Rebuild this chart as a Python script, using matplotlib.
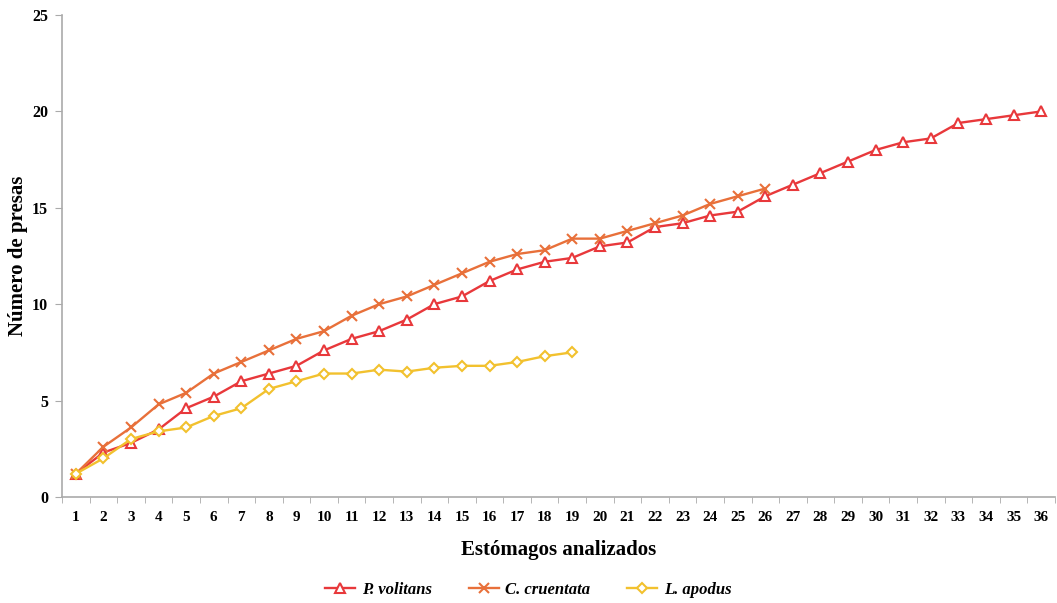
import matplotlib.pyplot as plt
from matplotlib.ticker import FixedLocator

plt.rcParams['font.family'] = ['Liberation Serif', 'DejaVu Serif']

stomachs = list(range(1, 37))
p_volitans = [1.2, 2.3, 2.8, 3.5, 4.6, 5.2, 6.0, 6.4, 6.8, 7.6, 8.2, 8.6, 9.2, 10.0,
              10.4, 11.2, 11.8, 12.2, 12.4, 13.0, 13.2, 14.0, 14.2, 14.6, 14.8, 15.6,
              16.2, 16.8, 17.4, 18.0, 18.4, 18.6, 19.4, 19.6, 19.8, 20.0]
c_cruentata = [1.2, 2.6, 3.6, 4.8, 5.4, 6.4, 7.0, 7.6, 8.2, 8.6, 9.4, 10.0, 10.4, 11.0,
               11.6, 12.2, 12.6, 12.8, 13.4, 13.4, 13.8, 14.2, 14.6, 15.2, 15.6, 16.0]
l_apodus = [1.2, 2.0, 3.0, 3.4, 3.6, 4.2, 4.6, 5.6, 6.0, 6.4, 6.4, 6.6, 6.5, 6.7,
            6.8, 6.8, 7.0, 7.3, 7.5]

fig = plt.figure(figsize=(10.57, 6.03), dpi=100)
ax = fig.add_axes([0.0587, 0.176, 0.9393, 0.799])

ax.plot(stomachs[:len(p_volitans)], p_volitans, color='#e8383b', lw=1.7,
        marker='^', ms=7, mfc='white', mec='#e8383b', mew=1.5, label='P. volitans')
ax.plot(stomachs[:len(c_cruentata)], c_cruentata, color='#e8703a', lw=1.7,
        marker='x', ms=7, mec='#e8703a', mew=1.5, label='C. cruentata')
ax.plot(stomachs[:len(l_apodus)], l_apodus, color='#f2c12e', lw=1.7,
        marker='D', ms=5.5, mfc='white', mec='#f2c12e', mew=1.5, label='L. apodus')

ax.set_xlim(0.5, 36.5)
ax.set_ylim(0, 25)
ax.set_xticks(stomachs)
ax.set_xticklabels([str(s) for s in stomachs], fontsize=11, fontweight='bold')
ax.xaxis.set_minor_locator(FixedLocator([s + 0.5 for s in range(0, 37)]))
ax.tick_params(axis='x', which='major', length=0, pad=10)
ax.tick_params(axis='x', which='minor', length=4, color='#aaaaaa', direction='out')
ax.set_yticks([0, 5, 10, 15, 20, 25])
ax.set_yticklabels(['0', '5', '10', '15', '20', '25'], fontsize=11.5, fontweight='bold')
ax.tick_params(axis='y', length=5, color='#aaaaaa', pad=5)

for side in ['top', 'right']:
    ax.spines[side].set_visible(False)
for side in ['left', 'bottom']:
    ax.spines[side].set_color('#aaaaaa')
    ax.spines[side].set_linewidth(1.2)

ax.set_xlabel('Estómagos analizados', fontsize=15, fontweight='bold', labelpad=12)
ax.set_ylabel('Número de presas', fontsize=15, fontweight='bold')
ax.yaxis.set_label_coords(-0.034, 0.5)

leg = fig.legend(loc='center', bbox_to_anchor=(0.5, 0.022), ncol=3, frameon=False,
                 prop={'size': 12, 'weight': 'bold', 'style': 'italic'},
                 handlelength=1.8, handletextpad=0.4, columnspacing=2.2)

fig.savefig('out.png', dpi=100)
